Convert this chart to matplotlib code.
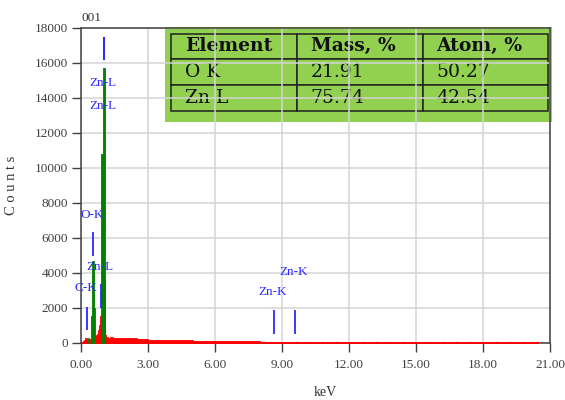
import matplotlib
matplotlib.use("Agg")
import matplotlib.pyplot as plt
from matplotlib.patches import Rectangle
from matplotlib.ticker import MultipleLocator, FormatStrFormatter
import numpy as np

# ---------------------------------------------------------------- data
# EDS spectrum: channel left edges (keV, last value closes the final channel) and counts
kev_edges = [0.00, 0.06, 0.12, 0.18, 0.24, 0.28, 0.36, 0.42, 0.46, 0.56, 0.62,
             0.68, 0.72, 0.76, 0.80, 0.84, 0.88, 0.96, 1.04, 1.08, 1.12, 1.20,
             1.30, 1.40, 1.60, 1.80, 2.00, 2.50, 3.00, 3.50, 4.00, 4.50, 5.00,
             6.00, 7.00, 8.00, 9.00, 12.00, 15.00, 18.00, 20.48]
counts = [40, 90, 160, 280, 180, 250, 200, 1550, 4700, 2000, 450,
          380, 480, 700, 1000, 1500, 10800, 15700, 3600, 450, 330, 290,
          300, 280, 260, 250, 240, 210, 180, 160, 140, 125, 110,
          95, 80, 65, 35, 30, 30, 25]
# regions of interest drawn in green
roi_kev = [(0.28, 0.36), (0.42, 0.62), (0.88, 1.08)]

# element line markers
line_names = ["C-K", "O-K", "Zn-L", "Zn-L", "Zn-L", "Zn-K", "Zn-K"]
line_kev = [0.277, 0.525, 0.884, 1.012, 1.034, 8.630, 9.570]
line_top = [2060, 6330, 3360, 17500, 17500, 1870, 1870]
label_counts = [3110, 7300, 4350, 14860, 13540, 2920, 4060]

# quantification table
table_cols = ["Element", "Mass, %", "Atom, %"]
table_rows = [["O K", "21.91", "50.27"],
              ["Zn L", "75.74", "42.54"]]

# ---------------------------------------------------------------- style
plt.rcParams["font.family"] = ["Liberation Serif", "DejaVu Serif"]
SPINE = "#404040"
MARK = "#2a2aff"
GREEN_BOX = "#92d050"

fig = plt.figure(figsize=(5.65, 4.0), dpi=100)
ax = fig.add_axes([0.1439, 0.1433, 0.8296, 0.7868])

edges = np.array(kev_edges)
widths = np.diff(edges)
colors = []
for lo in edges[:-1]:
    in_roi = any(a <= lo < b for a, b in roi_kev)
    colors.append("#008000" if in_roi else "#ff0000")
ax.bar(edges[:-1], counts, width=widths, align="edge", color=colors,
       edgecolor=colors, linewidth=0.6, zorder=3, clip_on=False)

# marker lines and labels
marker_len = 1350
for name, kev, top, ly in zip(line_names, line_kev, line_top, label_counts):
    ax.vlines(kev, top - marker_len, top, color=MARK, lw=1.3, zorder=4)
    ax.text(kev - 0.05, ly, name, color=MARK, fontsize=9.5,
            ha="center", va="center", zorder=5)

ax.set_xlim(0, 21)
ax.set_ylim(0, 18000)
ax.xaxis.set_major_locator(MultipleLocator(3))
ax.xaxis.set_minor_locator(MultipleLocator(0.6))
ax.xaxis.set_major_formatter(FormatStrFormatter("%.2f"))
ax.yaxis.set_major_locator(MultipleLocator(2000))
ax.set_axisbelow(True)
ax.grid(True, color="#d4d4d4", lw=1.1)
ax.tick_params(axis="both", which="major", labelsize=9.5, colors=SPINE,
               length=6.5, width=1.0)
ax.tick_params(axis="x", which="major", pad=5)
ax.tick_params(axis="y", which="major", pad=3)
ax.tick_params(axis="x", which="minor", direction="in", length=1.8,
               color="#b0b0b0", width=0.7)
for sp in ax.spines.values():
    sp.set_color(SPINE)
    sp.set_linewidth(1.1)

ax.set_ylabel("C o u n t s", fontsize=10.5, color="#333333")
ax.yaxis.set_label_coords(-0.135, 0.5)
ax.set_xlabel("keV", fontsize=10, color="#333333")
ax.xaxis.set_label_coords(0.52, -0.137)
ax.text(0.0, 1.012, "001", transform=ax.transAxes, fontsize=9.5,
        color="#333333", ha="left", va="bottom")

# green box with the quantification table
ax.add_patch(Rectangle((0.1796, 0.702), 0.8244, 0.301, transform=ax.transAxes,
                       facecolor=GREEN_BOX, edgecolor="none", zorder=0.2,
                       clip_on=False))
tbl = ax.table(cellText=table_rows, colLabels=table_cols, cellLoc="left",
               colLoc="left", bbox=[0.192, 0.737, 0.8044, 0.245])
tbl.set_zorder(0.3)
tbl.auto_set_font_size(False)
for (r, c), cell in tbl.get_celld().items():
    cell.set_facecolor(GREEN_BOX)
    cell.set_edgecolor("#222222")
    cell.set_linewidth(1.1)
    cell.PAD = 0.11
    txt = cell.get_text()
    txt.set_fontfamily("DejaVu Serif")
    txt.set_fontsize(13.5)
    txt.set_color("#111111")
    if r == 0:
        txt.set_fontweight("bold")

fig.savefig("out.png", dpi=100)
